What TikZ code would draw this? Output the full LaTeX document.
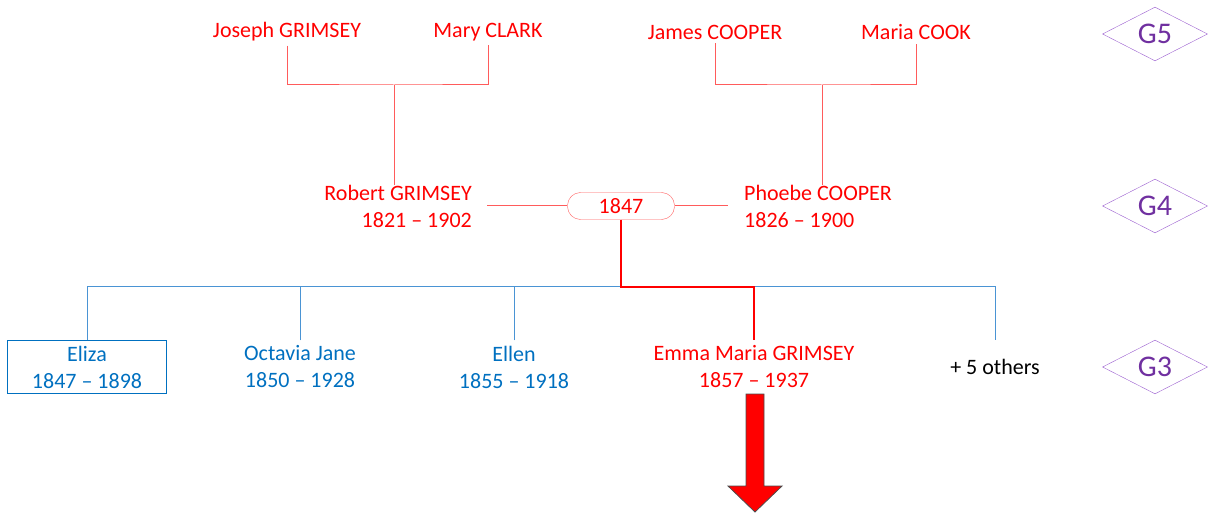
\documentclass[tikz,border=0pt]{standalone}
\usepackage{fontspec}
\setmainfont{Carlito}
\usepackage{xcolor}
\usepackage{tikz}
\usetikzlibrary{shapes,positioning,calc}
\definecolor{famred}{HTML}{FF0000}
\definecolor{linkred}{HTML}{FF5B5B}
\definecolor{kidblue}{HTML}{0070C0}
\definecolor{linkblue}{HTML}{4A94D4}
\definecolor{genpurple}{HTML}{7030A0}
\definecolor{genline}{HTML}{9B5FD0}

\begin{document}
\begin{tikzpicture}[x=1pt,y=-1pt,
    person/.style={text=famred,font=\fontsize{22}{27}\selectfont,align=center,inner sep=0pt},
    kid/.style={font=\fontsize{22}{27}\selectfont,align=center,inner sep=0pt,minimum width=159pt,minimum height=53pt},
    wedding/.style={draw=linkred,text=famred,rounded corners=13pt,minimum width=107pt,minimum height=27pt,inner sep=0pt,font=\fontsize{22}{27}\selectfont},
    gen/.style={diamond,draw=genline,text=genpurple,font=\fontsize{30}{30}\selectfont,minimum width=105pt,minimum height=53pt,inner sep=0pt},
    redlink/.style={draw=linkred,line width=1pt},
    bluelink/.style={draw=linkblue,line width=1pt}]
    \useasboundingbox (0,0) rectangle (1208,513);

    % Great-grandparents (G5)
    \node[person,inner sep=4pt] (joseph) at (287,32) {Joseph GRIMSEY};
    \node[person,inner sep=4pt] (mary) at (488,32) {Mary CLARK};
    \node[person,inner sep=4pt] (james) at (715,32) {James COOPER};
    \node[person,inner sep=4pt] (mariac) at (916,32) {Maria COOK};

    % Grandparents (G4)
    \node[person,anchor=east,align=right] (robert) at (472,206) {Robert GRIMSEY\\1821 -- 1902};
    \node[person,anchor=west,align=left] (phoebe) at (744,206) {Phoebe COOPER\\1826 -- 1900};
    \node[wedding] (wed) at (621,206) {1847};

    % Children (G3)
    \node[kid,draw=kidblue,text=kidblue] (eliza) at (87,367) {Eliza\\1847 -- 1898};
    \node[kid,text=kidblue] (octavia) at (300,367) {Octavia Jane\\1850 -- 1928};
    \node[kid,text=kidblue] (ellen) at (514,367) {Ellen\\1855 -- 1918};
    \node[kid,text=famred] (emma) at (754,367) {Emma Maria GRIMSEY\\1857 -- 1937};
    \node[kid,text=black] (others) at (995,367) {+ 5 others};

    % Generation markers
    \node[gen] (g5) at (1155,34) {G5};
    \node[gen] (g4) at (1155,206) {G4};
    \node[gen] (g3) at (1155,367) {G3};

    % Parent links
    \coordinate (grimbar) at (394,85);
    \coordinate (coopbar) at (822,85);
    \draw[redlink] (joseph.south) |- (grimbar) -| (mary.south);
    \draw[redlink] (grimbar) -- (grimbar |- robert.north);
    \draw[redlink] (james.south) |- (coopbar) -| (mariac.south);
    \draw[redlink] (coopbar) -- (coopbar |- phoebe.north);
    \draw[redlink] ([xshift=15pt]robert.east) -- (wed.west);
    \draw[redlink] (wed.east) -- ([xshift=-16pt]phoebe.west);

    % Children links
    \coordinate (kidbar) at (wed.south |- 0,287);
    \draw[bluelink] (eliza.north) -- (eliza.north |- kidbar) -- (others.north |- kidbar) -- (others.north);
    \draw[bluelink] (octavia.north) -- (octavia.north |- kidbar);
    \draw[bluelink] (ellen.north) -- (ellen.north |- kidbar);
    \draw[famred,line width=2pt] (wed.south) -- (kidbar) -| (emma.north);

    % Line continues
    \draw[fill=famred,draw=black!70,line width=0.8pt] (746,394) -- (764,394) -- (764,486) -- (782,486)
        -- (755,512) -- (728,486) -- (746,486) -- cycle;
\end{tikzpicture}
\end{document}
